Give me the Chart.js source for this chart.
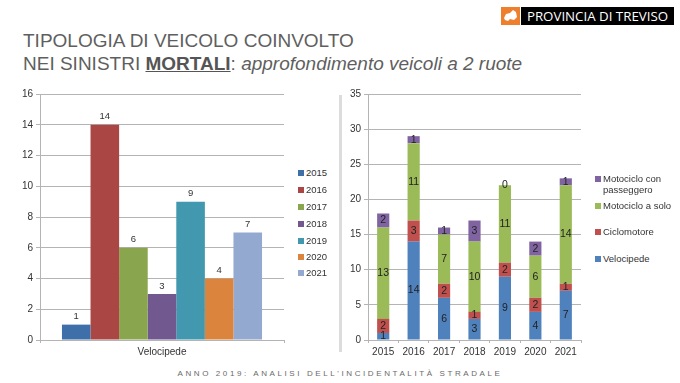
<!DOCTYPE html>
<html>
<head>
<meta charset="utf-8">
<script src="https://cdn.jsdelivr.net/npm/chart.js@4"></script>
<style>
  html, body { margin: 0; padding: 0; background: #fff; }
  body { width: 680px; height: 383px; position: relative; overflow: hidden; font-family: "Liberation Sans", Arial, sans-serif; }
  .abs { position: absolute; }
  #title { left: 23px; top: 29px; font-size: 19px; line-height: 23px; color: #5f5f5f; white-space: nowrap; }
  #title b { text-decoration: underline; color: #555; }
  #logo-box { left: 501px; top: 7px; width: 19px; height: 18px; background: #ee7f2d; }
  #logo-text { left: 521px; top: 7px; width: 153px; height: 18px; background: #000; color: #fff; font-size: 13.3px; line-height: 18px; text-align: center; font-family: "Open Sans", sans-serif; }
  #sep { left: 339px; top: 95px; width: 3px; height: 257px; background: #dcdcdc; }
  #footer { left: 0; width: 680px; top: 369px; text-align: center; font-size: 8px; line-height: 10px; letter-spacing: 2.6px; color: #6a6a6a; white-space: nowrap; }
  canvas { position: absolute; }
  .lg { position: absolute; font-size: 9.5px; line-height: 11px; color: #333; white-space: nowrap; }
  .lg i { position: absolute; left: -8px; top: 3px; width: 6px; height: 6px; }
</style>
</head>
<body>
<div class="abs" id="title">TIPOLOGIA DI VEICOLO COINVOLTO<br>NEI SINISTRI <b>MORTALI</b>: <em>approfondimento veicoli a 2 ruote</em></div>
<div class="abs" id="logo-box">
  <svg width="19" height="18" viewBox="0 0 19 18"><path d="M3 11 L5 7 L9 6 L12 3 L15 5 L16 10 L13 13 L9 12 L7 14 L4 13 Z" fill="#fff"/></svg>
</div>
<div class="abs" id="logo-text">PROVINCIA DI TREVISO</div>
<div class="abs" id="sep"></div>
<canvas id="yearChart" width="300" height="280" style="left:0;top:80px;width:300px;height:280px"></canvas>
<canvas id="typeChart" width="260" height="280" style="left:340px;top:80px;width:260px;height:280px"></canvas>
<div id="legends"></div>
<div class="abs" id="footer">ANNO 2019: ANALISI DELL'INCIDENTALITÀ STRADALE</div>

<script>
const years = ['2015', '2016', '2017', '2018', '2019', '2020', '2021'];

// left chart, one value per year
const velocipedeByYear = [1, 14, 6, 3, 9, 4, 7];
const yearColors = ['#3f6fa8', '#aa4643', '#89a54e', '#71588f', '#4198af', '#db843d', '#93a9cf'];

// right chart, stacked from the bottom up
const velocipede = [1, 14, 6, 3, 9, 4, 7];
const ciclomotore = [2, 3, 2, 1, 2, 2, 1];
const motoSolo = [13, 11, 7, 10, 11, 6, 14];
const motoPasseggero = [2, 1, 1, 3, 0, 2, 1];
const typeColors = ['#4f81bd', '#c0504d', '#9bbb59', '#8064a2'];
const typeNames = ['Velocipede', 'Ciclomotore', 'Motociclo a solo', 'Motociclo con passeggero'];

const gridColor = '#b4b4b4';
const tickFont = { family: '"Liberation Sans", Arial, sans-serif', size: 10 };

// draws each bar's value, above the bar or in its middle
const barValues = {
  id: 'barValues',
  afterDatasetsDraw(chart, args, opts) {
    const ctx = chart.ctx;
    ctx.save();
    ctx.font = opts.size + 'px "Liberation Sans", Arial, sans-serif';
    ctx.fillStyle = opts.color;
    ctx.textAlign = 'center';
    ctx.textBaseline = 'middle';
    chart.data.datasets.forEach((ds, i) => {
      chart.getDatasetMeta(i).data.forEach((bar, j) => {
        const y = opts.above ? bar.y - 8 : (bar.y + bar.base) / 2;
        ctx.fillText(ds.data[j], bar.x, y);
      });
    });
    ctx.restore();
  }
};

function axes(max, step, yWidth) {
  return {
    x: {
      grid: { drawOnChartArea: false, color: gridColor, tickLength: 3 },
      border: { color: gridColor },
      ticks: { color: '#333', font: tickFont, padding: 3 },
      afterFit: s => { s.height = 20; }
    },
    y: {
      min: 0, max,
      grid: { color: gridColor, tickLength: 4 },
      border: { color: gridColor },
      ticks: { stepSize: step, color: '#333', font: tickFont, padding: 3 },
      afterFit: s => { s.width = yWidth; }
    }
  };
}

new Chart(document.getElementById('yearChart'), {
  type: 'bar',
  plugins: [barValues],
  data: {
    labels: ['Velocipede'],
    datasets: years.map((y, i) => ({ label: y, data: [velocipedeByYear[i]], backgroundColor: yearColors[i] }))
  },
  options: {
    responsive: false, animation: false,
    layout: { padding: { top: 14, right: 16, left: 0, bottom: 0 } },
    datasets: { bar: { barPercentage: 1, categoryPercentage: 0.82 } },
    plugins: { legend: { display: false }, tooltip: { enabled: false }, barValues: { above: true, size: 9.5, color: '#333' } },
    scales: axes(16, 2, 40)
  }
});

const typeSeries = [velocipede, ciclomotore, motoSolo, motoPasseggero];
new Chart(document.getElementById('typeChart'), {
  type: 'bar',
  plugins: [barValues],
  data: {
    labels: years,
    datasets: typeNames.map((name, i) => ({ label: name, data: typeSeries[i], backgroundColor: typeColors[i] }))
  },
  options: {
    responsive: false, animation: false,
    layout: { padding: { top: 14, right: 19, left: 0, bottom: 0 } },
    datasets: { bar: { barPercentage: 0.4, categoryPercentage: 1 } },
    plugins: { legend: { display: false }, tooltip: { enabled: false }, barValues: { above: false, size: 10.5, color: '#222' } },
    scales: (() => {
      const s = axes(35, 5, 28);
      s.x.stacked = true;
      s.y.stacked = true;
      return s;
    })()
  }
});

// legends sit at their own spots, so they are plain text next to the canvases
function addLegend(x, y, text, color) {
  const el = document.createElement('div');
  el.className = 'lg';
  el.style.left = x + 'px';
  el.style.top = y + 'px';
  el.innerHTML = `<i style="background:${color}"></i>${text}`;
  document.getElementById('legends').appendChild(el);
}
const yearLegendTops = [167, 184, 201, 218, 235, 251, 267];
years.forEach((y, i) => addLegend(306, yearLegendTops[i], y, yearColors[i]));
addLegend(603, 253, typeNames[0], typeColors[0]);
addLegend(603, 226, typeNames[1], typeColors[1]);
addLegend(603, 200, typeNames[2], typeColors[2]);
addLegend(603, 173, 'Motociclo con<br>passeggero', typeColors[3]);
</script>
</body>
</html>
